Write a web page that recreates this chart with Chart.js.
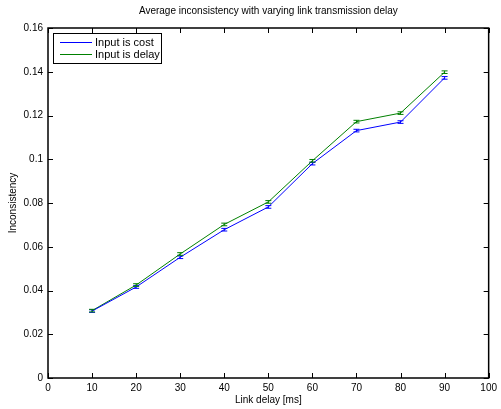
<!DOCTYPE html>
<html>
<head>
<meta charset="utf-8">
<script src="https://cdn.jsdelivr.net/npm/chart.js@4/dist/chart.umd.min.js"></script>
<style>
  html, body { margin: 0; padding: 0; background: #fff; }
  canvas { display: block; }
</style>
</head>
<body>
<canvas id="chart" width="501" height="409"></canvas>
<script>
// Link delay values (ms) on the x axis
const delays = [10, 20, 30, 40, 50, 60, 70, 80, 90];

// Average inconsistency per series
const costMean  = [0.0306, 0.0416, 0.0552, 0.0678, 0.0782, 0.0980, 0.1131, 0.1170, 0.1372];
const delayMean = [0.0308, 0.0425, 0.0567, 0.0702, 0.0805, 0.0993, 0.1172, 0.1211, 0.1398];

// Half-height of the tiny error bars
const costErr  = [0.0006, 0.0006, 0.0006, 0.0006, 0.0006, 0.0006, 0.0006, 0.0006, 0.0006];
const delayErr = [0.0006, 0.0006, 0.0006, 0.0006, 0.0006, 0.0006, 0.0006, 0.0006, 0.0006];

const seriesLabels = ['Input is cost', 'Input is delay'];
const xTicks = [0, 10, 20, 30, 40, 50, 60, 70, 80, 90, 100];
const yTicks = [0, 0.02, 0.04, 0.06, 0.08, 0.1, 0.12, 0.14, 0.16];

const FONT = 'Liberation Sans, Arial, Helvetica, sans-serif';
const AREA = { left: 48, top: 28, right: 491, bottom: 378 };

const toPoints = (ys) => delays.map((x, i) => ({ x: x, y: ys[i] }));

// error bars with small caps, MATLAB errorbar style
const errorBars = {
    id: 'errorBars',
    afterDatasetsDraw(chart) {
        const ctx = chart.ctx;
        const y = chart.scales.y;
        chart.data.datasets.forEach((ds, di) => {
            const meta = chart.getDatasetMeta(di);
            ctx.save();
            ctx.strokeStyle = ds.borderColor;
            ctx.lineWidth = 1;
            meta.data.forEach((pt, i) => {
                const v = ds.data[i].y;
                const e = ds.errors[i];
                const top = y.getPixelForValue(v + e);
                const bot = y.getPixelForValue(v - e);
                ctx.beginPath();
                ctx.moveTo(pt.x, top); ctx.lineTo(pt.x, bot);
                ctx.moveTo(pt.x - 3, top); ctx.lineTo(pt.x + 3, top);
                ctx.moveTo(pt.x - 3, bot); ctx.lineTo(pt.x + 3, bot);
                ctx.stroke();
            });
            ctx.restore();
        });
    }
};

// box with inward ticks on all four sides
const axesBox = {
    id: 'axesBox',
    afterDraw(chart) {
        const ctx = chart.ctx;
        const a = chart.chartArea;
        const xs = chart.scales.x, ys = chart.scales.y;
        ctx.save();
        ctx.strokeStyle = '#000';
        ctx.lineWidth = 1;
        ctx.beginPath();
        xTicks.forEach(t => {
            const px = Math.round(xs.getPixelForValue(t)) + 0.5;
            ctx.moveTo(px, a.bottom); ctx.lineTo(px, a.bottom - 5);
            ctx.moveTo(px, a.top); ctx.lineTo(px, a.top + 5);
        });
        yTicks.forEach(t => {
            const py = Math.round(ys.getPixelForValue(t)) + 0.5;
            ctx.moveTo(a.left, py); ctx.lineTo(a.left + 5, py);
            ctx.moveTo(a.right, py); ctx.lineTo(a.right - 5, py);
        });
        ctx.stroke();
        ctx.lineWidth = 1.5;
        ctx.strokeRect(a.left, a.top, a.right - a.left, a.bottom - a.top);
        ctx.restore();
    }
};

// legend box in the upper left corner
const boxLegend = {
    id: 'boxLegend',
    afterDraw(chart) {
        const ctx = chart.ctx;
        const a = chart.chartArea;
        const x0 = a.left + 5, y0 = a.top + 5;
        ctx.save();
        ctx.fillStyle = '#fff';
        ctx.fillRect(x0, y0, 108, 30);
        ctx.strokeStyle = '#000';
        ctx.lineWidth = 1;
        ctx.strokeRect(x0 + 0.5, y0 + 0.5, 108, 30);
        ctx.font = '11px ' + FONT;
        ctx.textBaseline = 'middle';
        chart.data.datasets.forEach((ds, i) => {
            const ly = y0 + 9.5 + i * 12;
            ctx.strokeStyle = ds.borderColor;
            ctx.beginPath();
            ctx.moveTo(x0 + 7, ly); ctx.lineTo(x0 + 39, ly);
            ctx.stroke();
            ctx.fillStyle = '#000';
            ctx.fillText(ds.label, x0 + 42, ly);
        });
        ctx.restore();
    }
};

// title drawn above the plot box, centred on it
const topTitle = {
    id: 'topTitle',
    afterDraw(chart) {
        const ctx = chart.ctx;
        const a = chart.chartArea;
        ctx.save();
        ctx.font = '10px ' + FONT;
        ctx.fillStyle = '#000';
        ctx.textAlign = 'center';
        ctx.textBaseline = 'middle';
        ctx.fillText('Average inconsistency with varying link transmission delay', (a.left + a.right) / 2, 11);
        ctx.restore();
    }
};

new Chart(document.getElementById('chart'), {
    type: 'line',
    data: {
        datasets: [
            {
                label: seriesLabels[0],
                data: toPoints(costMean),
                errors: costErr,
                borderColor: '#0000ff',
                borderWidth: 1,
                pointRadius: 0,
                tension: 0
            },
            {
                label: seriesLabels[1],
                data: toPoints(delayMean),
                errors: delayErr,
                borderColor: '#008000',
                borderWidth: 1,
                pointRadius: 0,
                tension: 0
            }
        ]
    },
    options: {
        responsive: false,
        animation: false,
        devicePixelRatio: 1,
        layout: { padding: { top: AREA.top, right: 501 - AREA.right, left: 0, bottom: 0 } },
        plugins: {
            legend: { display: false },
            tooltip: { enabled: false },
            title: { display: false }
        },
        scales: {
            x: {
                type: 'linear',
                min: 0,
                max: 100,
                afterBuildTicks: (s) => { s.ticks = xTicks.map(v => ({ value: v })); },
                afterFit: (s) => { s.height = 409 - AREA.bottom; },
                grid: { display: false, drawTicks: false },
                border: { display: false },
                ticks: { color: '#000', font: { family: FONT, size: 10 }, padding: 4, maxRotation: 0, autoSkip: false },
                title: { display: true, text: 'Link delay [ms]', color: '#000', font: { family: FONT, size: 10 }, padding: { top: 0, bottom: 3 } }
            },
            y: {
                min: 0,
                max: 0.16,
                afterBuildTicks: (s) => { s.ticks = yTicks.map(v => ({ value: v })); },
                afterFit: (s) => { s.width = AREA.left; },
                grid: { display: false, drawTicks: false },
                border: { display: false },
                ticks: {
                    color: '#000',
                    font: { family: FONT, size: 10 },
                    padding: 5,
                    autoSkip: false,
                    callback: (v) => String(Math.round(v * 100) / 100)
                },
                title: { display: true, text: 'Inconsistency', color: '#000', font: { family: FONT, size: 10 }, padding: { top: 7, bottom: 0 } }
            }
        }
    },
    plugins: [errorBars, axesBox, boxLegend, topTitle]
});
</script>
</body>
</html>
